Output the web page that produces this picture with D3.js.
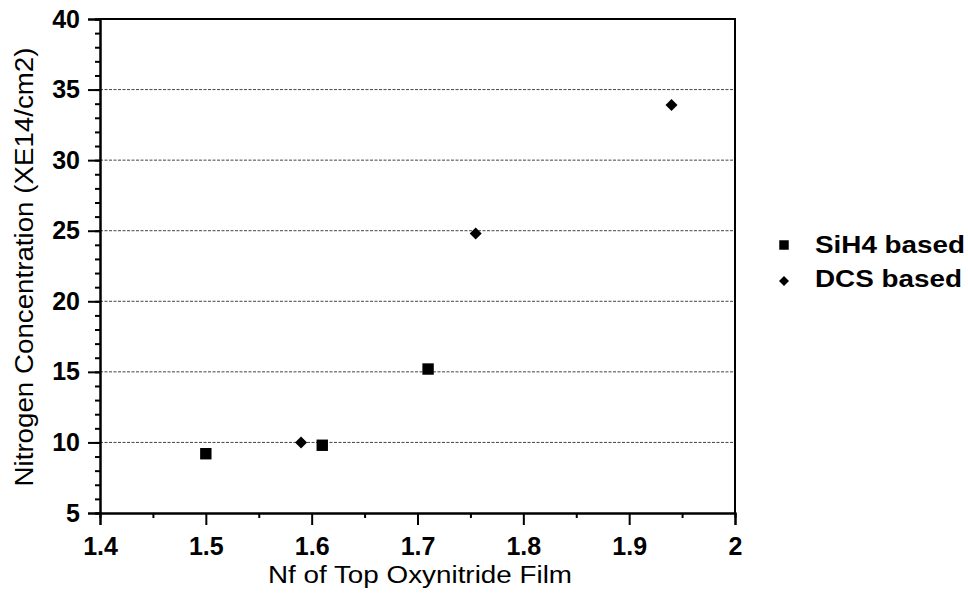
<!DOCTYPE html>
<html>
<head>
<meta charset="utf-8">
<script src="https://cdn.jsdelivr.net/npm/d3@7"></script>
<style>
  body { margin: 0; background: #fff; }
  svg { display: block; font-family: "Liberation Sans", Arial, Helvetica, sans-serif; }
</style>
</head>
<body>
<div id="chart"></div>
<script>
// data
const sih4Nf = [1.50, 1.61, 1.71]
const sih4N = [9.2, 9.8, 15.2]
const dcsNf = [1.59, 1.755, 1.94]
const dcsN = [10.0, 24.8, 33.9]

const xTicks = [1.4, 1.5, 1.6, 1.7, 1.8, 1.9, 2]
const yTicks = [5, 10, 15, 20, 25, 30, 35, 40]
const seriesNames = ['SiH4 based', 'DCS based']
const xTitle = 'Nf of Top Oxynitride Film'
const yTitle = 'Nitrogen Concentration (XE14/cm2)'

const fullWidth = 968,
  fullHeight = 607,
  margin = { top: 19, right: 233, bottom: 94, left: 100 },
  width = fullWidth - margin.left - margin.right,
  height = fullHeight - margin.top - margin.bottom

const svg = d3.select('#chart')
  .append('svg')
    .attr('width', fullWidth)
    .attr('height', fullHeight)

const g = svg.append('g')
  .attr('transform', `translate(${margin.left}, ${margin.top})`)

const x = d3.scaleLinear().domain([1.4, 2]).range([0, width])
const y = d3.scaleLinear().domain([5, 40]).range([height, 0])

// dotted grid
g.append('g')
  .selectAll('line')
  .data(yTicks.filter(d => d > 5 && d < 40))
  .enter()
  .append('line')
    .attr('x1', 0)
    .attr('x2', width)
    .attr('y1', d => y(d))
    .attr('y2', d => y(d))
    .attr('stroke', '#444')
    .attr('stroke-width', 1)
    .attr('stroke-dasharray', '3,1.5')

// minor ticks
g.append('g')
  .call(d3.axisLeft(y).tickValues(d3.range(5, 41, 1)).tickSize(5).tickFormat(''))
  .call(plainAxis)
g.append('g')
  .attr('transform', `translate(0, ${height})`)
  .call(d3.axisBottom(x).tickValues(d3.range(1.45, 2, 0.1)).tickSize(5).tickFormat(''))
  .call(plainAxis)

// major axes
g.append('g')
  .call(d3.axisLeft(y).tickValues(yTicks).tickSize(12).tickPadding(8).tickFormat(d3.format('d')))
  .call(plainAxis)
  .call(a => a.selectAll('text').attr('font-size', 25).attr('font-weight', 'bold'))
g.append('g')
  .attr('transform', `translate(0, ${height})`)
  .call(d3.axisBottom(x).tickValues(xTicks).tickSize(12).tickPadding(12).tickFormat(d => d3.format('')(d)))
  .call(plainAxis)
  .call(a => a.selectAll('text').attr('font-size', 25).attr('font-weight', 'bold'))

// frame top / right
g.append('path')
  .attr('d', `M0,0H${width}V${height}`)
  .attr('fill', 'none')
  .attr('stroke', '#000')
  .attr('stroke-width', 2)

// points
const square = d3.symbol().type(d3.symbolSquare).size(130)
const diamond = d3.symbol().type(d3.symbolSquare).size(72)

g.selectAll('.sq')
  .data(sih4Nf.map((v, i) => ({ nf: v, n: sih4N[i] })))
  .enter()
  .append('path')
    .attr('class', 'sq')
    .attr('d', square)
    .attr('transform', d => `translate(${x(d.nf)}, ${y(d.n)})`)
    .attr('fill', '#000')

g.selectAll('.dm')
  .data(dcsNf.map((v, i) => ({ nf: v, n: dcsN[i] })))
  .enter()
  .append('path')
    .attr('class', 'dm')
    .attr('d', diamond)
    .attr('transform', d => `translate(${x(d.nf)}, ${y(d.n)}) rotate(45)`)
    .attr('fill', '#000')

// titles
svg.append('text')
  .attr('x', 420)
  .attr('y', 583)
  .attr('text-anchor', 'middle')
  .attr('font-size', 23)
  .attr('textLength', 304)
  .attr('lengthAdjust', 'spacingAndGlyphs')
  .text(xTitle)

svg.append('text')
  .attr('transform', 'translate(33, 267) rotate(-90)')
  .attr('text-anchor', 'middle')
  .attr('font-size', 25)
  .attr('textLength', 439)
  .attr('lengthAdjust', 'spacingAndGlyphs')
  .text(yTitle)

// legend
const legend = svg.append('g')
legend.append('path')
  .attr('d', d3.symbol().type(d3.symbolSquare).size(90))
  .attr('transform', 'translate(784, 245)')
legend.append('path')
  .attr('d', d3.symbol().type(d3.symbolSquare).size(50))
  .attr('transform', 'translate(784, 281) rotate(45)')
legend.selectAll('text')
  .data(seriesNames)
  .enter()
  .append('text')
    .attr('x', 815)
    .attr('y', (d, i) => i === 0 ? 253 : 287)
    .attr('font-size', 23)
    .attr('font-weight', 'bold')
    .attr('textLength', (d, i) => i === 0 ? 150 : 147)
    .attr('lengthAdjust', 'spacingAndGlyphs')
    .text(d => d)

function plainAxis (a) {
  a.selectAll('.domain')
    .attr('stroke', '#000')
    .attr('stroke-width', 2)
  a.selectAll('.tick line')
    .attr('stroke', '#000')
    .attr('stroke-width', 2)
  a.selectAll('text')
    .attr('fill', '#000')
    .attr('font-family', '"Liberation Sans", Arial, Helvetica, sans-serif')
}
</script>
</body>
</html>
